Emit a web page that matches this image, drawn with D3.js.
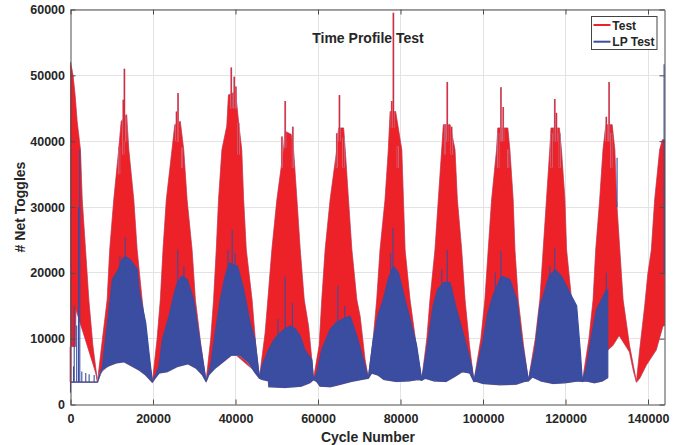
<!DOCTYPE html>
<html><head><meta charset="utf-8">
<script src="https://cdn.jsdelivr.net/npm/d3@7/dist/d3.min.js"></script>
<style>
body{margin:0;background:#fff;}
text{font-family:"Liberation Sans",Arial,sans-serif;font-weight:bold;fill:#262626;}
</style>
</head><body>
<svg id="chart" width="682" height="445"></svg>
<script>
// ---------- data ----------
const title = "Time Profile Test";
const xLabel = "Cycle Number";
const yLabel = "# Net Toggles";
const seriesNames = ["Test", "LP Test"];
const xTicks = [0, 20000, 40000, 60000, 80000, 100000, 120000, 140000];
const yTicks = [0, 10000, 20000, 30000, 40000, 50000, 60000];

// "Test" series: upper envelope of the dense signal [cycle, toggles]
const testUpper = [
  [0,52000],[600,50000],[1100,47000],[1600,43000],[2400,38700],[2830,31100],[3630,23500],[4430,15900],[5400,9000],[6540,3400],
  [7750,9900],[8900,15900],[9520,23500],[10500,31100],[11700,38700],[12300,43000],[13600,44000],[14120,38700],[15330,31100],[16140,23500],[17350,15900],[18600,9000],[19850,3400],
  [21000,9900],[21790,15900],[22440,23500],[23240,31100],[24620,38700],[25300,42500],[26600,43000],[27430,38700],[28250,31100],[29460,23500],[30260,15900],[31600,9000],[32870,3500],
  [34000,9900],[34700,15900],[35350,23500],[35900,31100],[36720,38700],[37900,42300],[38300,47000],[40000,47500],[40750,42800],[41500,38700],[41960,31100],[42600,23500],[44000,15900],[44900,9000],[45800,4000],
  [47200,10900],[48000,17000],[48830,23500],[50040,31100],[51650,38700],[52000,41500],[53500,41000],[54060,38700],[54880,31100],[55680,23500],[56650,15900],[57700,11900],[58500,6800],[58900,3800],
  [60300,9000],[60930,15900],[61740,23500],[62950,31100],[64560,38700],[65000,42000],[66200,42000],[66580,38700],[67380,31100],[68200,23500],[69400,15900],[70200,13400],[71400,6800],[72200,4000],
  [73400,10000],[74250,15900],[75050,23500],[76260,31100],[77060,38700],[77500,44500],[78800,44500],[80300,38700],[80700,31100],[81100,23500],[82300,15900],[83800,9000],[85150,3700],
  [86400,10000],[87160,15900],[88370,23500],[89180,31100],[90000,38700],[90400,42500],[92000,42500],[93200,38700],[93770,31100],[94820,23500],[95630,15900],[96700,9000],[97800,3500],
  [99500,10000],[100470,15900],[101280,23500],[102100,31100],[103300,38700],[103600,42000],[106000,42000],[106500,38700],[107300,31100],[107730,23500],[108530,15900],[109800,9000],[111000,3600],
  [112700,10000],[113800,15900],[114600,23500],[115400,31100],[116200,38700],[116500,42000],[118500,42000],[119000,38700],[119850,31100],[120250,23500],[121460,15900],[122800,9000],[124100,3500],
  [125700,10000],[126700,15900],[127340,23500],[128300,31100],[129100,38700],[129800,42500],[131300,42500],[131950,38700],[132360,31100],[133150,23500],[133950,15900],[135500,9000],[137200,3400],
  [138000,8300],[139200,14900],[140000,20000],[140830,23500],[141630,31100],[142840,38700],[143500,40200],[144000,40200]
];
// "Test" series: lower envelope
const testLower = [
  [0,8800],[1200,8800],[1300,14500],[3700,9700],[6130,4800],[6540,3400],
  [7540,5000],[13200,8000],[18850,5000],[19850,3400],[20850,5000],[26400,8000],[31870,5000],[32870,3500],
  [33870,5000],[39250,8000],[44800,5000],[45800,4000],[46800,5000],[52200,8000],[57900,5000],[58900,3800],
  [59900,5000],[65400,8000],[71200,5000],[72200,4000],[73200,5000],[78500,8000],[84150,5000],[85150,3700],
  [86150,5000],[91450,8000],[96800,5000],[97800,3500],[98800,5000],[104400,8000],[110000,5000],[111000,3600],
  [112000,5000],[117550,8000],[123100,5000],[124100,3500],[125100,5000],[127500,6500],
  [130300,8300],[131500,9000],[133000,10500],[134500,9000],[135500,8000],[136500,5000],[137200,3400],
  [138000,4000],[139600,6000],[142000,8300],[143600,11900],[144000,12000]
];
// "LP Test" series: upper and lower envelopes
const lpUpper = [
  [0,3400],[6540,3400],
  [7750,5800],[8500,10000],[8960,12400],[10170,19000],[11600,20500],[12500,22000],[13300,22500],[14500,22000],[16200,20500],[16600,17400],[18240,12400],[19000,8000],[19850,3400],
  [21470,5800],[22270,9900],[23890,13400],[25000,16500],[25900,18500],[27000,19500],[28300,19000],[29850,15900],[31500,9000],[32870,3500],
  [34000,6000],[35000,10500],[36300,15900],[37500,19500],[38500,21500],[40500,21000],[42000,17400],[43500,12500],[44700,9900],[45800,4000],
  [46500,6000],[48000,8300],[49500,10000],[50840,10900],[52000,11500],[53260,11900],[54500,11500],[55680,10400],[56800,8300],[58500,6800],[58900,3800],
  [59700,4800],[60900,8300],[62950,11400],[64500,12500],[66000,13000],[67800,13400],[69400,10400],[71000,6800],[72200,4000],
  [73400,9900],[74500,13500],[75800,15900],[77000,19000],[78300,21000],[79500,20000],[81100,15900],[82500,12500],[83900,9000],[85150,3700],
  [86350,8300],[87900,14900],[89000,17500],[90500,18500],[92000,18500],[93600,14400],[95600,9900],[97250,5800],[97800,3500],
  [100070,9900],[101200,14000],[102400,16500],[104400,19500],[106500,19000],[108200,15900],[109350,9900],[110700,4800],[111000,3600],
  [112600,8300],[113800,15000],[114600,16500],[116000,19500],[117500,20500],[119000,19500],[121000,17000],[122700,15000],[123600,8000],[124100,3500],
  [125100,5800],[126300,10400],[127500,14400],[129900,17400],[130250,17400]
];
const lpLower = [
  [0,3400],[6540,3400],
  [7000,4500],[7800,5300],[9000,5800],[11000,6300],[13000,6500],[15000,5800],[16500,5300],[18200,4500],[19850,3400],
  [20500,4000],[21500,4800],[23500,5000],[26000,5800],[28500,6200],[30500,5500],[32000,4500],[32870,3500],
  [33500,4500],[35000,5500],[37000,6500],[39000,7500],[41000,7500],[43000,6500],[44800,4800],[45800,4000],
  [46500,3800],[48000,3600],[48100,2700],[52000,2600],[56000,2800],[58000,3300],[58900,3800],
  [59700,3500],[60500,2800],[63000,2700],[65000,3000],[68000,3500],[70500,3800],[72200,4000],
  [73000,4800],[74500,4500],[76000,3800],[79000,3500],[82000,3600],[84300,3800],[85150,3700],
  [86000,4000],[88000,3600],[91000,3500],[93000,4200],[95000,5000],[96800,4800],[97800,3500],
  [98500,3500],[100000,3200],[104000,3000],[108000,3100],[110000,3500],[111000,3600],
  [112000,4200],[114000,3600],[117000,3200],[120000,3300],[123000,3600],[124100,3500],
  [125000,3600],[127000,3300],[129000,3600],[130250,4100]
];
// isolated spikes [cycle, from, to]
const testSpikes = [
  [0,3400,8800],
  [11800,35000,39200],[12800,38000,46300],[13070,40000,51000],[13500,40000,44000],
  [25700,40000,44500],[26070,40000,47300],[27040,36000,39000],
  [38980,45000,51200],[39700,45000,49800],[40100,45000,48300],[40750,38000,42800],
  [51250,36000,40700],[52050,39000,46100],[53900,36000,42200],
  [64560,36000,41200],[65200,40000,47000],[66170,36000,40500],
  [77880,42000,46100],[78280,42000,59500],[79340,36000,39200],
  [90790,38000,42500],[91340,40000,49000],[92400,38000,42200],
  [103700,36000,41200],[104350,40000,48200],[104900,40000,45200],[106100,36000,38700],
  [116600,36000,41200],[117400,40000,46400],[117800,40000,44300],[118600,36000,41200],
  [129900,40000,43700],[130570,40000,49000],[131100,36000,41200]
];
const lpSpikes = [
  [0,1800,3400],[730,3400,5800],[900,3400,15000],[1500,3400,12000],[1940,3400,30000],[2250,3400,38700],
  [2740,3400,5000],[3700,3400,4800],[4520,3400,4600],[5730,3400,4500],
  [12000,18000,22500],[13300,20000,25400],[14800,18000,21500],
  [26000,17000,23500],[27500,17000,21000],
  [38200,19000,23500],[39200,19000,26500],[39900,19000,23000],
  [50300,9000,13000],[52050,10000,19500],[53800,10000,15400],
  [64800,11000,18000],[66500,11000,15000],
  [77600,19000,23000],[78200,19000,26800],
  [90000,17000,20500],[91340,17000,23500],
  [103000,16000,20000],[104350,18000,23300],
  [116200,18000,21000],[117400,19000,23700],
  [129900,16000,20000],[132500,30000,37500],[143900,20000,51700]
];

// ---------- drawing ----------
const L = 70.5, R = 664.5, T = 9.5, B = 404.5;
const RED = "#ED2128", BLUE = "#3A4DA0", FRINGE = "#9dbde3", PEACH = "#e0a78f";

const svg = d3.select("#chart");
const x = d3.scaleLinear().domain([0, 144000]).range([L, R]);
const y = d3.scaleLinear().domain([0, 60000]).range([B, T]);

// grid
const grid = svg.append("g").attr("stroke", "#e3e3e3").attr("stroke-width", 1).attr("shape-rendering", "crispEdges");
grid.selectAll(".gx").data(xTicks.slice(1)).join("line")
  .attr("x1", d => x(d)).attr("x2", d => x(d)).attr("y1", T).attr("y2", B);
grid.selectAll(".gy").data(yTicks.slice(1)).join("line")
  .attr("y1", d => y(d)).attr("y2", d => y(d)).attr("x1", L).attr("x2", R);

const line = d3.line().x(d => x(d[0])).y(d => y(d[1]));
function band(upper, lower) {
  return line(upper.concat(lower.slice().reverse())) + "Z";
}

const plot = svg.append("g");
// Test (red)
plot.append("path").attr("d", band(testUpper, testLower))
  .attr("fill", RED).attr("stroke", FRINGE).attr("stroke-width", 1.1).attr("stroke-linejoin", "round");
plot.append("path").attr("d", band(testUpper, testLower))
  .attr("fill", RED).attr("stroke", RED).attr("stroke-width", 0.5);
plot.append("g").selectAll("line").data(testSpikes).join("line")
  .attr("x1", d => x(d[0])).attr("x2", d => x(d[0]))
  .attr("y1", d => y(d[1])).attr("y2", d => y(d[2]))
  .attr("stroke", FRINGE).attr("stroke-width", 1.9);
plot.append("g").selectAll("line").data(testSpikes).join("line")
  .attr("x1", d => x(d[0])).attr("x2", d => x(d[0]))
  .attr("y1", d => y(d[1])).attr("y2", d => y(d[2]))
  .attr("stroke", RED).attr("stroke-width", 1.3);
// LP Test (blue)
plot.append("path").attr("d", line(lpLower))
  .attr("fill", "none").attr("stroke", PEACH).attr("stroke-width", 1.6);
plot.append("path").attr("d", band(lpUpper, lpLower))
  .attr("fill", BLUE).attr("stroke", BLUE).attr("stroke-width", 1.2).attr("stroke-linejoin", "round");
plot.append("g").selectAll("line").data(lpSpikes).join("line")
  .attr("x1", d => x(d[0])).attr("x2", d => x(d[0]))
  .attr("y1", d => y(d[1])).attr("y2", d => y(d[2]))
  .attr("stroke", BLUE).attr("stroke-width", 1.1);

// axes (MATLAB-style box, ticks inside)
const axisColor = "#4d4d4d";
function styleAxis(g) {
  g.select(".domain").attr("stroke", axisColor).attr("stroke-width", 1);
  g.selectAll(".tick line").attr("stroke", axisColor);
  g.selectAll("text").attr("font-size", "12.5px").attr("fill", "#262626")
    .attr("font-family", "Liberation Sans, Arial, sans-serif").attr("font-weight", "bold");
}
svg.append("g").attr("transform", `translate(0,${B})`)
  .call(d3.axisBottom(x).tickValues(xTicks).tickFormat(d3.format("d")).tickSizeInner(-5).tickSizeOuter(0).tickPadding(9.5))
  .call(styleAxis);
svg.append("g").attr("transform", `translate(${L},0)`)
  .call(d3.axisLeft(y).tickValues(yTicks).tickFormat(d3.format("d")).tickSizeInner(-5).tickSizeOuter(0).tickPadding(5.5))
  .call(styleAxis);
svg.append("g").attr("transform", `translate(0,${T})`)
  .call(d3.axisTop(x).tickValues(xTicks).tickFormat("").tickSizeInner(-5).tickSizeOuter(0))
  .call(styleAxis);
svg.append("g").attr("transform", `translate(${R},0)`)
  .call(d3.axisRight(y).tickValues(yTicks).tickFormat("").tickSizeInner(-5).tickSizeOuter(0))
  .call(styleAxis);

// titles
svg.append("text").attr("x", 368).attr("y", 42.5).attr("text-anchor", "middle")
  .attr("font-size", "14px").attr("fill", "#111").text(title);
svg.append("text").attr("x", 368).attr("y", 442).attr("text-anchor", "middle")
  .attr("font-size", "14px").text(xLabel);
svg.append("text").attr("transform", "translate(25,207) rotate(-90)").attr("text-anchor", "middle")
  .attr("font-size", "14px").text(yLabel);

// legend
const lg = svg.append("g");
lg.append("rect").attr("x", 591.5).attr("y", 16.5).attr("width", 65.5).attr("height", 33)
  .attr("fill", "#fff").attr("stroke", "#444").attr("stroke-width", 1);
const lgItems = [{name: seriesNames[0], color: RED, y: 25}, {name: seriesNames[1], color: BLUE, y: 41.7}];
lgItems.forEach(it => {
  lg.append("line").attr("x1", 593.5).attr("x2", 610.5).attr("y1", it.y).attr("y2", it.y)
    .attr("stroke", it.color).attr("stroke-width", 2);
  lg.append("text").attr("x", 612.3).attr("y", it.y + 4.6).attr("font-size", "12px").attr("fill", "#111").text(it.name);
});
</script>
</body></html>
